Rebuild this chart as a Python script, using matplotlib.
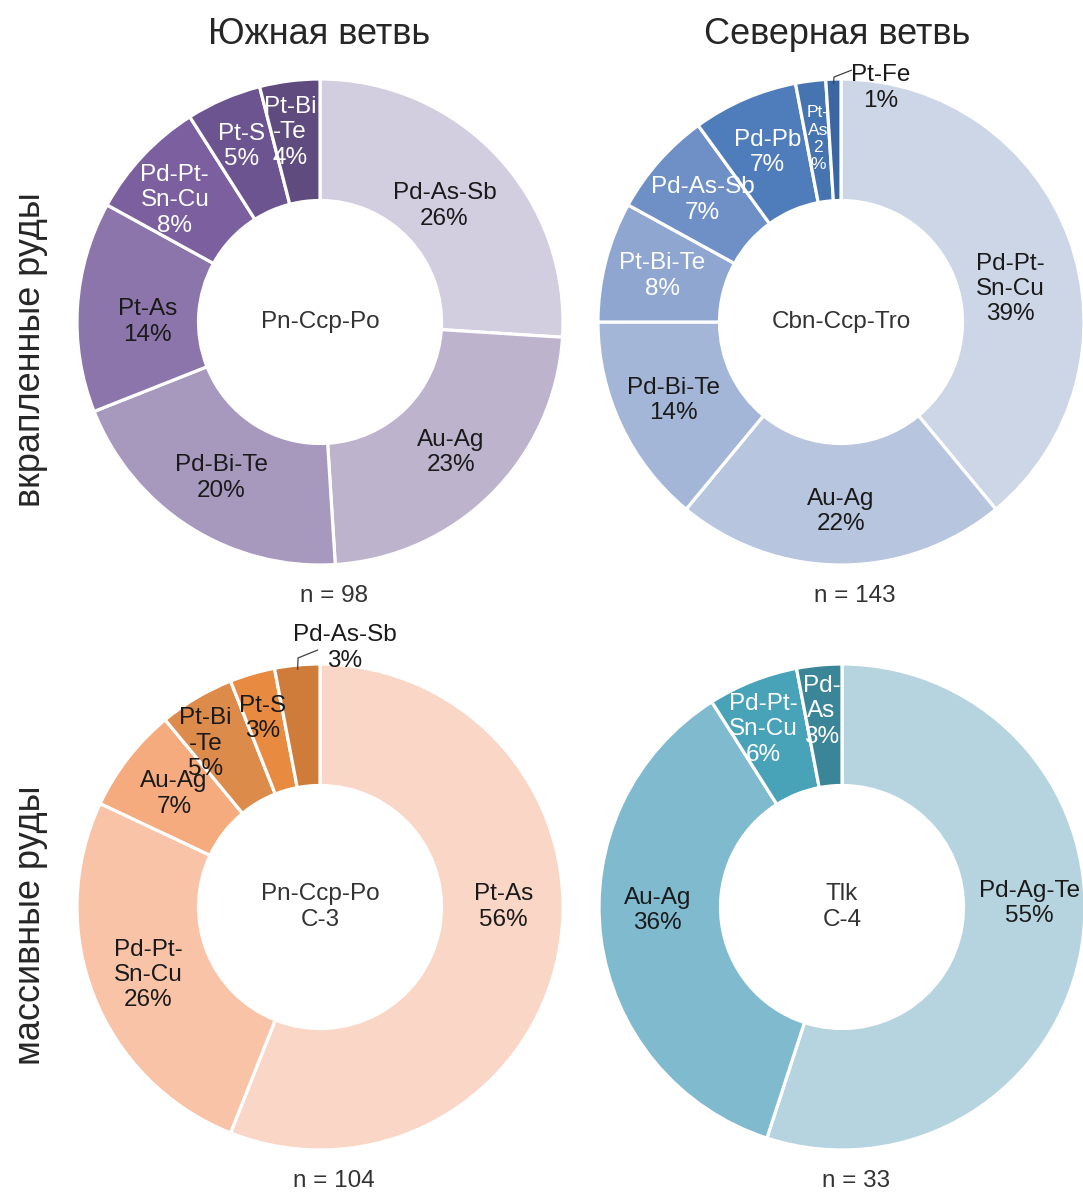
import numpy as np
import matplotlib
matplotlib.use("Agg")
import matplotlib.pyplot as plt

plt.rcParams["font.family"] = ["Liberation Sans", "DejaVu Sans"]

W, H, DPI = 1083, 1194, 100

# ---- data -------------------------------------------------------------
south_dissem_labels = ["Pd-As-Sb", "Au-Ag", "Pd-Bi-Te", "Pt-As", "Pd-Pt-\nSn-Cu", "Pt-S", "Pt-Bi\n-Te"]
south_dissem_pct = [26, 23, 20, 14, 8, 5, 4]

north_dissem_labels = ["Pd-Pt-\nSn-Cu", "Au-Ag", "Pd-Bi-Te", "Pt-Bi-Te", "Pd-As-Sb", "Pd-Pb", "Pt-\nAs", "Pt-Fe"]
north_dissem_pct = [39, 22, 14, 8, 7, 7, 2, 1]

south_massive_labels = ["Pt-As", "Pd-Pt-\nSn-Cu", "Au-Ag", "Pt-Bi\n-Te", "Pt-S", "Pd-As-Sb"]
south_massive_pct = [56, 26, 7, 5, 3, 3]

north_massive_labels = ["Pd-Ag-Te", "Au-Ag", "Pd-Pt-\nSn-Cu", "Pd-\nAs"]
north_massive_pct = [55, 36, 6, 3]

column_titles = ["Южная ветвь", "Северная ветвь"]
row_titles = ["вкрапленные руды", "массивные руды"]
center_texts = ["Pn-Ccp-Po", "Cbn-Ccp-Tro", "Pn-Ccp-Po\nC-3", "Tlk\nC-4"]
sample_sizes = [98, 143, 104, 33]

# ---- styling ----------------------------------------------------------
purples = ["#d3cde0", "#bdb3cd", "#a798bd", "#8c75aa", "#7b5f9f", "#6c5490", "#5f4b7e"]
purple_txt = ["#1a1a1a"] * 4 + ["white"] * 3
blues = ["#cdd6e7", "#b7c5df", "#a3b6d7", "#8ea6d0", "#6f90c7", "#4f7dbb", "#4674b1", "#3b66a2"]
blue_txt = ["#1a1a1a"] * 3 + ["white"] * 4 + ["#1a1a1a"]
oranges = ["#f9d6c5", "#f8c3a7", "#f5ab7e", "#dd8b4b", "#e88b40", "#cf7c3b"]
orange_txt = ["#1a1a1a"] * 6
teals = ["#b6d4df", "#80bace", "#48a3b9", "#3a8698"]
teal_txt = ["#1a1a1a", "#1a1a1a", "white", "white"]

R_PX = 243
INNER = 0.5
LIM = 1.25
LAB_R = 0.76
FS = 17.5
LS = 1.2

# label placement tweaks: index -> (angle clockwise from 12 o'clock, radius)
panels = [
    dict(labels=south_dissem_labels, pct=south_dissem_pct, colors=purples, txt=purple_txt,
         center=(320, 322),
         place={0: (47, 0.70), 3: (270, 0.71), 4: (310, 0.78), 5: (336, 0.79), 6: (351, 0.79)},
         external={}, small={}),
    dict(labels=north_dissem_labels, pct=north_dissem_pct, colors=blues, txt=blue_txt,
         center=(841, 322),
         place={0: (79, 0.71), 1: (180, 0.78)},
         external={7: ((-0.012, 1.008), (0.045, 1.037), (0.165, 0.963))}, small={6: 12.5}),
    dict(labels=south_massive_labels, pct=south_massive_pct, colors=oranges, txt=orange_txt,
         center=(320, 907),
         place={0: (90, 0.755), 3: (325, 0.82), 4: (343, 0.81)},
         external={5: ((-0.103, 1.025), (-0.008, 1.058), (0.103, 1.066))}, small={}),
    dict(labels=north_massive_labels, pct=north_massive_pct, colors=teals, txt=teal_txt,
         center=(842, 907),
         place={0: (89, 0.77), 1: (269, 0.76), 2: (336, 0.80), 3: (354, 0.81)},
         external={}, small={}),
]

fig = plt.figure(figsize=(W / DPI, H / DPI), dpi=DPI)

for i, p in enumerate(panels):
    cx, cy = p["center"]
    half = R_PX * LIM
    ax = fig.add_axes([(cx - half) / W, 1 - (cy + half) / H, 2 * half / W, 2 * half / H])
    ax.set_xlim(-LIM, LIM)
    ax.set_ylim(-LIM, LIM)
    ax.set_aspect("equal")
    ax.axis("off")
    ax.pie(p["pct"], colors=p["colors"], startangle=90, counterclock=False, radius=1.0,
           wedgeprops=dict(width=1 - INNER, edgecolor="white", linewidth=2.3))
    total = sum(p["pct"])
    cum = 0
    for k, (lab, v) in enumerate(zip(p["labels"], p["pct"])):
        mid = (cum + v / 2) / total * 360.0  # clockwise from 12 o'clock
        cum += v
        if k in p["external"]:
            (x1, y1), (x2, y2), (tx, ty) = p["external"][k]
            ang = np.deg2rad(mid)
            ex, ey = 0.98 * np.sin(ang), 0.98 * np.cos(ang)
            ax.plot([ex, ex + 0.002, x2], [ey, y1, y2], color="#404040", lw=0.9,
                    clip_on=False, solid_capstyle="butt")
            ax.text(tx, ty, f"{lab}\n{v}%", ha="center", va="center", fontsize=FS,
                    color="#1a1a1a", linespacing=LS)
            continue
        text = f"{lab}\n{v}\n%" if k in p["small"] else f"{lab}\n{v}%"
        a, r = p["place"].get(k, (mid, LAB_R))
        ang = np.deg2rad(a)
        ax.text(r * np.sin(ang), r * np.cos(ang), text, ha="center", va="center",
                fontsize=p["small"].get(k, FS), color=p["txt"][k], linespacing=LS)
    ax.text(0, 0, center_texts[i], ha="center", va="center", fontsize=FS,
            color="#333333", linespacing=LS)

# sample sizes under each donut
for (cx, cy), n in zip([p["center"] for p in panels], sample_sizes):
    fig.text((cx + 14) / W, 1 - (cy + 274) / H, f"n = {n}", ha="center", va="center",
             fontsize=FS, color="#333333")

# column headers and row headers
for title, x in zip(column_titles, [319, 837]):
    fig.text(x / W, 1 - 34 / H, title, ha="center", va="center", fontsize=26, color="#262626")
for title, y in zip(row_titles, [350, 925]):
    fig.text(31 / W, 1 - y / H, title, ha="center", va="center", rotation=90,
             fontsize=26, color="#262626")

fig.savefig("out.png", dpi=DPI, facecolor="white")
